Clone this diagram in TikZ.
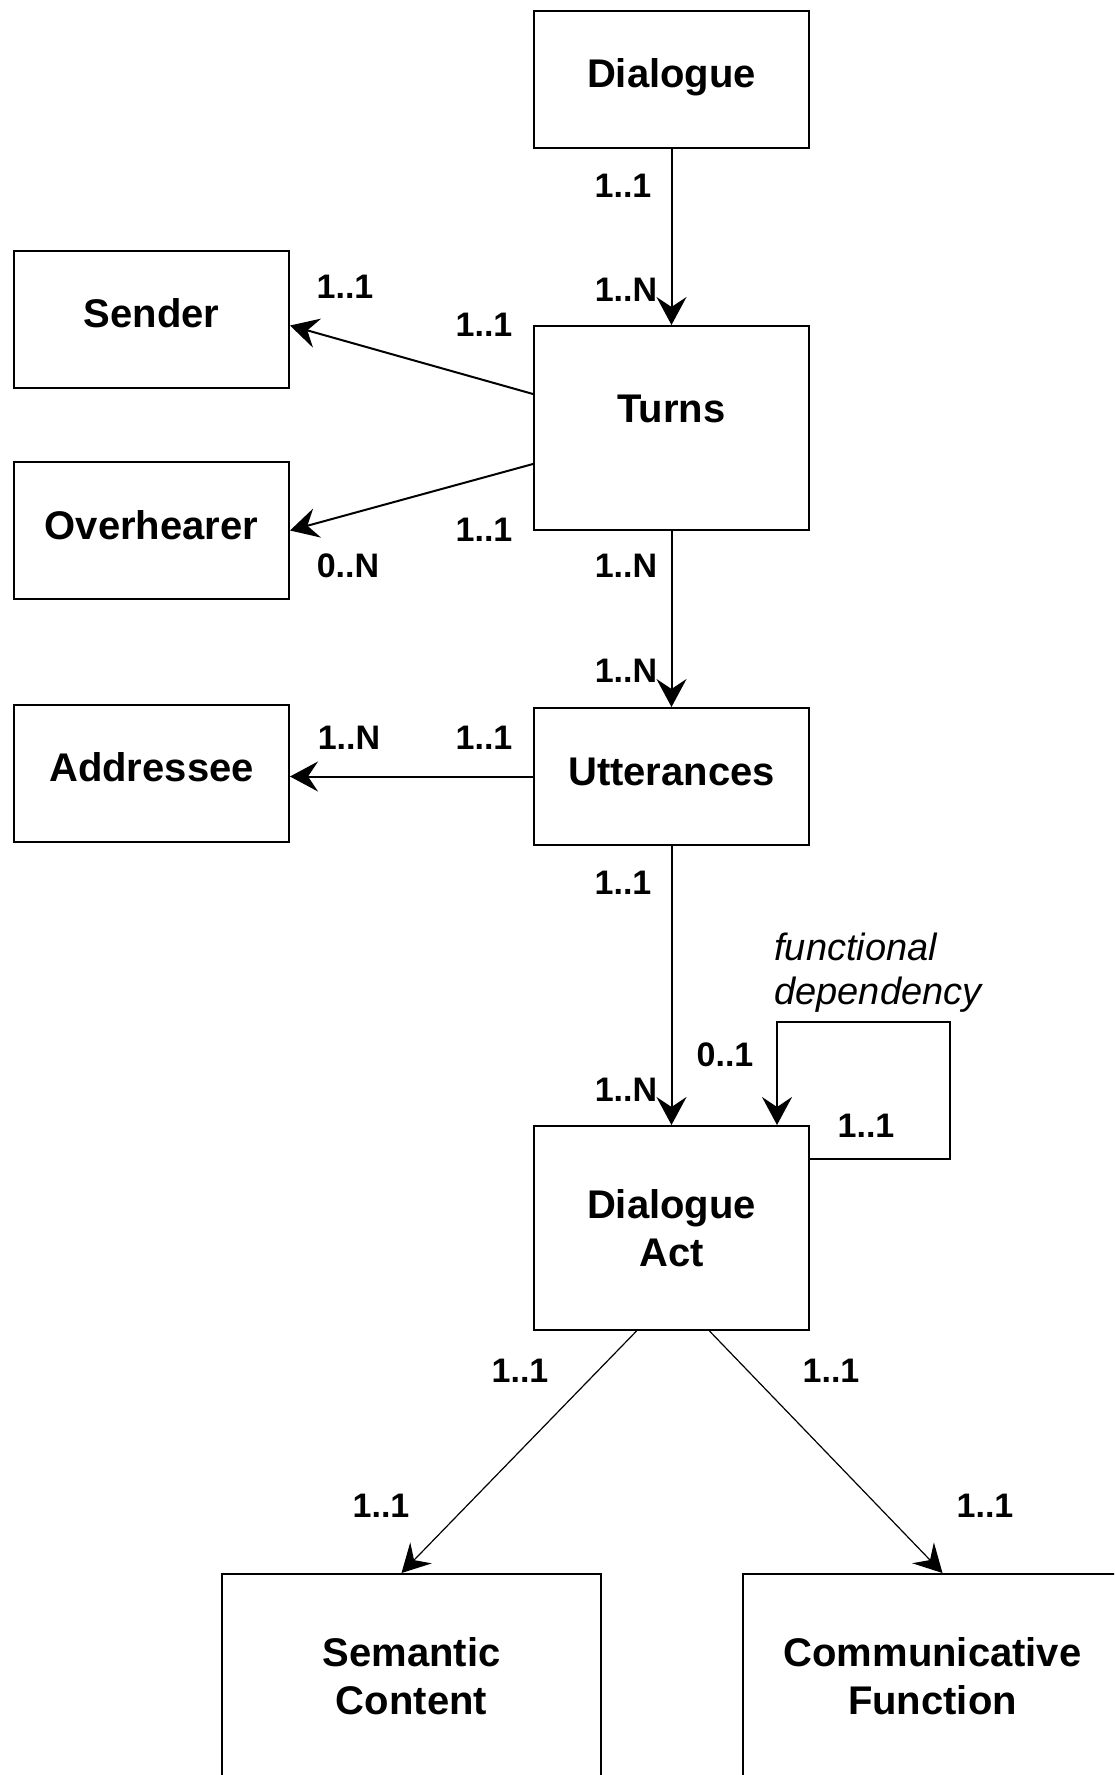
\documentclass[tikz,border=0pt]{standalone}
\usepackage{fontspec}
\setmainfont{Liberation Sans}
\usetikzlibrary{arrows.meta}

\begin{document}
\begin{tikzpicture}[x=0.5pt, y=-0.5pt,
    entity/.style={draw, line width=1pt, align=center, inner sep=0pt,
                   font=\fontsize{20}{24}\selectfont\bfseries,
                   minimum width=137.5pt, minimum height=68.5pt},
    oneline/.style={text height=14.5pt, text depth=6pt},
    tall/.style={minimum height=102pt},
    wide/.style={minimum width=189.5pt},
    card/.style={font=\fontsize{17}{20}\selectfont\bfseries, inner sep=0pt},
    note/.style={font=\fontsize{19}{22}\selectfont\itshape, align=left,
                 inner sep=0pt, anchor=base west},
    link/.style={line width=1pt, -{Stealth[length=14pt, width=15pt, inset=5pt]}},
    thinlink/.style={link, line width=0.6pt}
]
\clip (0,0) rectangle (1114,1775);

% entities
\node[entity, oneline] (dlg) at (671.5,79.5) {Dialogue};
\node[entity, tall, text depth=19pt] (turns) at (671.5,428) {Turns};
\node[entity, oneline] (sender) at (151.5,319.5) {Sender};
\node[entity, oneline] (over) at (151.5,530.5) {Overhearer};
\node[entity, oneline] (utt) at (671.5,776.5) {Utterances};
\node[entity, oneline] (addr) at (151.5,773) {Addressee};
\node[entity, tall] (act) at (671.5,1228) {Dialogue\\Act};
\node[entity, tall, wide] (sem) at (411.5,1676) {Semantic\\Content};
\node[entity, tall, wide] (comm) at (932.5,1676) {Communicative\\Function};

% relations
\draw[link] (dlg) -- (turns);
\draw[link] ([yshift=17pt]turns.west) -- ([yshift=-3pt]sender.east);
\draw[link] ([yshift=-18pt]turns.west) -- (over.east);
\draw[link] (turns) -- (utt);
\draw[link] (utt.west) -- (utt.west -| addr.east);
\draw[link] (utt) -- (act);
\coordinate (loop) at (950,1022);
\draw[link] ([yshift=-17pt]act.north east) -| (loop) -| ([xshift=52.75pt]act.north);
\draw[thinlink] ([xshift=-17.5pt]act.south) -- ([xshift=-5pt]sem.north);
\draw[thinlink] ([xshift=19pt]act.south) -- ([xshift=5pt]comm.north);

% cardinalities
\node[card] (c1) at (623,186) {1..1};
\node[card] (c2) at (626,290) {1..N};
\node[card] (c3) at (345,287) {1..1};
\node[card] (c4) at (484,325) {1..1};
\node[card] (c5) at (484,530) {1..1};
\node[card] (c6) at (348,566) {0..N};
\node[card] (c7) at (626,566) {1..N};
\node[card] (c8) at (626,671) {1..N};
\node[card] (c9) at (349,738) {1..N};
\node[card] (c10) at (484,738) {1..1};
\node[card] (c11) at (623,883) {1..1};
\node[card] (c12) at (725,1055) {0..1};
\node[card] (c13) at (626,1090) {1..N};
\node[card] (c14) at (866,1126) {1..1};
\node[card] (c15) at (520,1371) {1..1};
\node[card] (c16) at (831,1371) {1..1};
\node[card] (c17) at (381,1506) {1..1};
\node[card] (c18) at (985,1506) {1..1};

\node[note] (fd) at (774,1004) {functional\\dependency};
\end{tikzpicture}
\end{document}
